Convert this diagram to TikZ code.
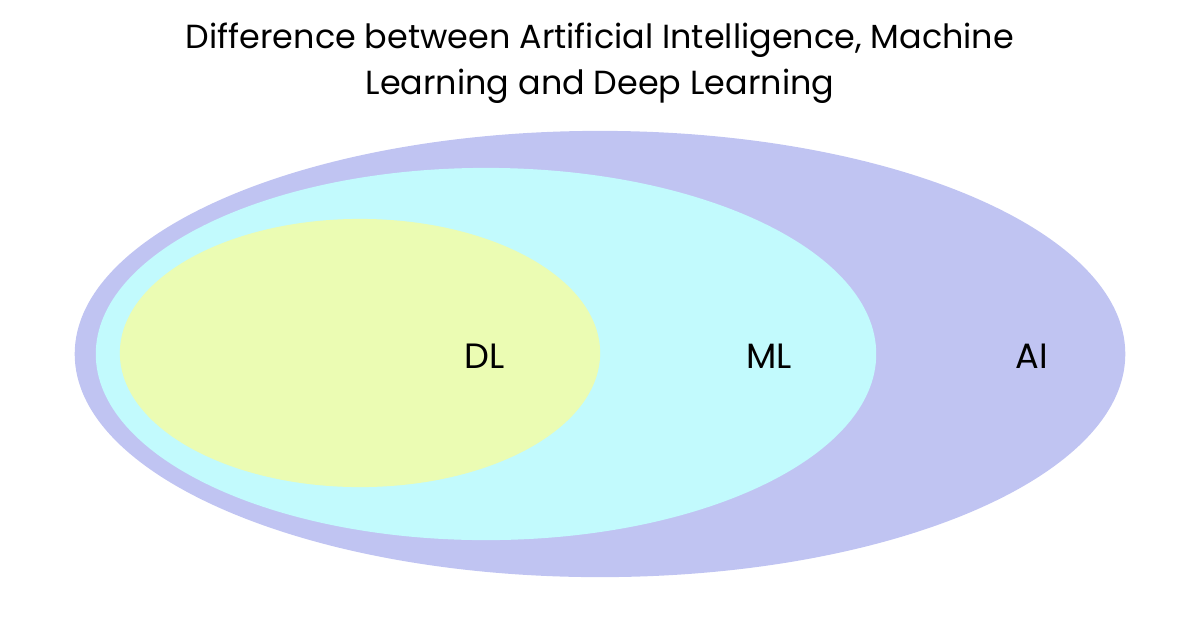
\documentclass[tikz,border=0pt]{standalone}
\usepackage{fontspec}
\setmainfont{Poppins}
\usetikzlibrary{shapes.geometric}
\definecolor{aic}{HTML}{C0C4F2}
\definecolor{mlc}{HTML}{C2FAFD}
\definecolor{dlc}{HTML}{EBFCB3}
\begin{document}
\begin{tikzpicture}[x=0.01cm,y=-0.01cm,
  blob/.style={ellipse,inner sep=0pt,draw=none},
  lab/.style={font=\fontsize{10}{12}\selectfont}]
\useasboundingbox (0,0) rectangle (1200,630);
\node[blob,fill=aic,minimum width=10.5cm,minimum height=4.46cm] (ai) at (600,354) {};
\node[blob,fill=mlc,minimum width=7.8cm,minimum height=3.72cm] (ml) at (486,354) {};
\node[blob,fill=dlc,minimum width=4.8cm,minimum height=2.68cm] (dl) at (360,353) {};
\node[lab] (tdl) at (485,356) {DL};
\node[lab] (tml) at (769,356) {ML};
\node[lab] (tai) at (1032,356) {AI};
\node[font=\fontsize{9.5}{13.2}\selectfont,align=center] (title) at (600,63) {Difference between Artificial Intelligence, Machine\\Learning and Deep Learning};
\end{tikzpicture}
\end{document}
